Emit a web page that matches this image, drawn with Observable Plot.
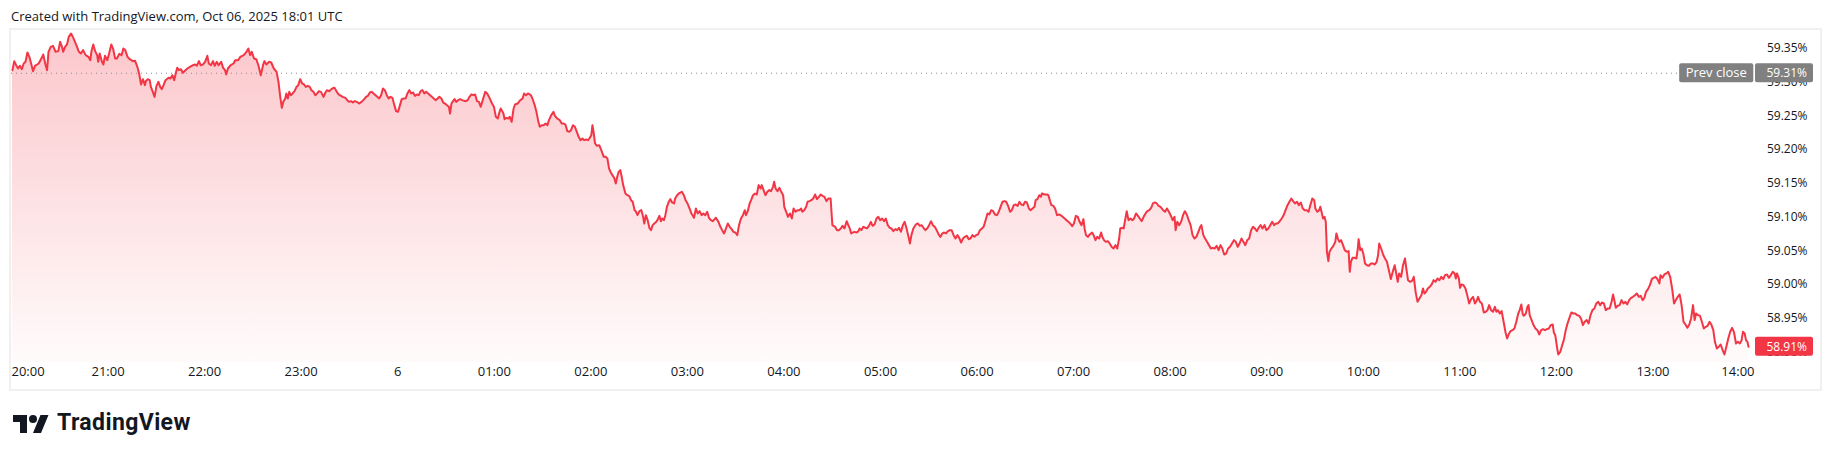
<!DOCTYPE html>
<html>
<head>
<meta charset="utf-8">
<script src="https://cdn.jsdelivr.net/npm/d3@7"></script>
<script src="https://cdn.jsdelivr.net/npm/@observablehq/plot@0.6"></script>
<style>
html,body{margin:0;padding:0;background:#fff;width:1831px;height:458px;overflow:hidden;font-family:"Open Sans",Roboto,sans-serif;color:#131722}
#hdr{position:absolute;left:11px;top:7px;font-size:13px;line-height:18px;white-space:nowrap}
#frame{position:absolute;left:9px;top:28px;width:1813px;height:363px;box-sizing:border-box;border:2px solid #f0f0f0}
#chart{position:absolute;left:11px;top:30px}
#logoIcon{position:absolute;left:13px;top:411px}
#logoText{position:absolute;left:57px;top:410px;font:700 23px/26px Roboto,"Open Sans",sans-serif;letter-spacing:0.4px;color:#131722;white-space:nowrap}
</style>
</head>
<body>
<div id="hdr"></div>
<div id="frame"></div>
<div id="chart"></div>
<svg id="logoIcon" width="36" height="28" viewBox="0 0 36 28"><path d="M14 22H7V11H0V4h14v18zM28 22h-8l7.5-18h8L28 22z" fill="#131722"/><circle cx="20" cy="8" r="4" fill="#131722"/></svg>
<div id="logoText">TradingView</div>
<script>
// ---------- data (minutes after 20:00 Oct 5, price %) ----------
const headerText = "Created with TradingView.com, Oct 06, 2025 18:01 UTC";
const prevClose = 59.313;
const lastPrice = 58.9077;
const priceTicks = [58.90, 58.95, 59.00, 59.05, 59.10, 59.15, 59.20, 59.25, 59.30, 59.35];
const timeTickMinutes = [0,60,120,180,240,300,360,420,480,540,600,660,720,780,840,900,960,1020,1080];
const timeTickLabels = ["20:00","21:00","22:00","23:00","6","01:00","02:00","03:00","04:00","05:00","06:00","07:00","08:00","09:00","10:00","11:00","12:00","13:00","14:00"];
const eveningSession = [
[0.6,59.3175],[1.7,59.3309],[2.9,59.3249],[4.1,59.3200],[5.2,59.3240],[6.4,59.3190],[7.6,59.3274],[8.7,59.3299],[9.9,59.3437],[11.1,59.3373],
[12.2,59.3274],[13.4,59.3160],[14.6,59.3240],[16.9,59.3274],[18.8,59.3358],[19.7,59.3407],[21.1,59.3259],[22.1,59.3175],[23.0,59.3447],[24.4,59.3521],
[25.8,59.3536],[27.4,59.3447],[29.1,59.3457],[30.2,59.3595],[31.4,59.3521],[32.1,59.3447],[33.3,59.3521],[34.5,59.3556],[35.6,59.3669],[37.0,59.3719],
[38.4,59.3654],[40.3,59.3546],[41.9,59.3447],[43.1,59.3422],[44.5,59.3472],[46.1,59.3398],[47.8,59.3373],[49.0,59.3323],[49.7,59.3457],[50.8,59.3556],
[52.0,59.3457],[53.2,59.3398],[53.9,59.3299],[54.8,59.3422],[56.2,59.3299],[57.1,59.3259],[58.1,59.3388],[59.5,59.3323],[60.4,59.3398],[62.0,59.3556],
[63.2,59.3486],[64.4,59.3348],[65.5,59.3348],[67.0,59.3417],[68.4,59.3398],[69.5,59.3496],[70.7,59.3472],[72.1,59.3373],[73.5,59.3338],[75.4,59.3309],
[76.8,59.3314],[78.2,59.3225],[79.3,59.3126],[80.5,59.2963],[81.7,59.3042],[82.9,59.2953],[83.5,59.3012],[84.7,59.3042],[85.9,59.3027],[86.6,59.2928],
[87.8,59.2854],[88.9,59.2780],[90.1,59.2943],[91.3,59.3002],[92.4,59.2928],[93.4,59.2894],[94.5,59.2953],[95.7,59.3027],[97.6,59.3062],[98.8,59.3052],
[99.9,59.3101],[101.1,59.3027],[102.3,59.3151],[103.0,59.3210],[104.1,59.3175],[105.3,59.3190],[106.5,59.3136],[108.1,59.3175],[109.3,59.3200],[110.9,59.3225],
[112.8,59.3249],[114.0,59.3259],[115.1,59.3240],[116.5,59.3309],[117.5,59.3249],[118.9,59.3259],[120.3,59.3299],[121.7,59.3388],[122.6,59.3274],[124.0,59.3249],
[125.2,59.3309],[126.3,59.3240],[127.5,59.3299],[128.7,59.3249],[130.3,59.3299],[131.5,59.3210],[132.7,59.3175],[133.4,59.3111],[134.5,59.3200],[136.2,59.3249],
[138.0,59.3274],[139.0,59.3323],[140.8,59.3323],[142.2,59.3373],[144.3,59.3398],[146.0,59.3447],[147.2,59.3496],[148.3,59.3398],[149.3,59.3447],[150.7,59.3348],
[152.1,59.3338],[153.5,59.3240],[154.9,59.3101],[156.3,59.3249],[157.2,59.3309],[158.4,59.3259],[160.0,59.3299],[161.4,59.3289],[163.0,59.3200],[164.7,59.3151],
[165.9,59.3002],[167.0,59.2780],[168.0,59.2617],[168.9,59.2706],[170.1,59.2756],[170.8,59.2830],[171.7,59.2756],[172.6,59.2854],[173.6,59.2805],[174.7,59.2830],
[175.9,59.2864],[177.1,59.2928],[178.2,59.2953],[179.4,59.3042],[180.6,59.2978],[181.8,59.2963],[182.9,59.2928],[184.1,59.2943],[185.3,59.2928],[186.4,59.2879],
[187.6,59.2854],[188.8,59.2805],[189.9,59.2830],[191.1,59.2864],[192.3,59.2854],[193.9,59.2780],[195.1,59.2844],[196.0,59.2879],[197.4,59.2864],[199.3,59.2904],
[200.7,59.2914],[201.6,59.2879],[202.8,59.2830],[204.0,59.2805],[205.8,59.2780],[207.5,59.2765],[208.6,59.2731],[209.8,59.2706],[211.0,59.2716],[212.1,59.2696],
[213.3,59.2716],[214.5,59.2706],[216.1,59.2681],[217.5,59.2706],[219.2,59.2746],[220.3,59.2780],[221.5,59.2795],[222.7,59.2844],[223.8,59.2854],[225.0,59.2830],
[226.2,59.2805],[227.3,59.2780],[228.5,59.2756],[229.7,59.2805],[230.8,59.2904],[232.0,59.2879],[233.2,59.2805],[234.4,59.2756],[235.5,59.2780],[236.7,59.2765],
[237.9,59.2657],[239.0,59.2568],[240.2,59.2558],[241.4,59.2657],[242.5,59.2746],[243.7,59.2756],[244.9,59.2756],[246.0,59.2830],[247.2,59.2879],[248.4,59.2830],
[249.5,59.2844],[250.7,59.2795],[251.9,59.2815],[253.1,59.2805],[254.2,59.2864],[255.4,59.2879],[256.6,59.2830],[257.7,59.2854],[258.9,59.2830],[260.1,59.2805],
[261.2,59.2780],[262.4,59.2756],[263.6,59.2731],[264.8,59.2756],[265.9,59.2780],[267.1,59.2756],[268.3,59.2696],[269.4,59.2681],[270.6,59.2657],[271.8,59.2632],
[272.5,59.2533],[273.4,59.2681],[274.1,59.2706],[275.3,59.2746],[276.4,59.2706],[277.6,59.2731],[278.8,59.2746],[280.0,59.2731],[282.3,59.2716],[283.5,59.2731],
[284.6,59.2780],[285.8,59.2815],[287.0,59.2805],[288.1,59.2815],[289.3,59.2716],[290.5,59.2706],[291.6,59.2632],[292.8,59.2731],[294.4,59.2854],[295.6,59.2830],
[297.0,59.2765],[298.6,59.2681],[299.8,59.2632],[301.0,59.2484],[302.2,59.2459],[303.3,59.2558],[304.0,59.2607],[305.7,59.2533],[306.4,59.2449],[307.5,59.2469],
[308.7,59.2459],[309.6,59.2484],[310.8,59.2410],[312.0,59.2607],[312.9,59.2667],[314.5,59.2681],[316.2,59.2731],[317.6,59.2756],[318.5,59.2830],[319.7,59.2805],
[320.9,59.2830],[322.7,59.2805],[323.7,59.2756],[325.1,59.2657],[326.2,59.2558],[327.4,59.2410],[328.3,59.2336],[329.5,59.2360],[330.7,59.2360],[331.9,59.2385],
[333.0,59.2360],[334.0,59.2435],[335.4,59.2509],[336.8,59.2558],[337.7,59.2499],[339.1,59.2459],[340.7,59.2435],[341.9,59.2385],[343.1,59.2385],[344.2,59.2370],
[345.4,59.2272],[346.6,59.2262],[347.7,59.2286],[348.9,59.2360],[350.1,59.2336],[351.3,59.2262],[352.4,59.2188],[353.6,59.2138],[354.8,59.2163],[355.9,59.2138],
[357.1,59.2148],[358.3,59.2138]
];
const nightSession = [
[359.1,59.2163],[360.3,59.2212],[361.0,59.2360],[361.7,59.2262],[362.6,59.2089],[363.8,59.2054],[365.2,59.2064],[366.1,59.2015],[367.0,59.1956],[368.0,59.1891],
[369.2,59.1891],[370.3,59.1867],[371.3,59.1719],[372.2,59.1669],[373.4,59.1620],[374.5,59.1580],[375.5,59.1496],[376.4,59.1595],[377.3,59.1669],[378.3,59.1694],
[379.2,59.1595],[380.1,59.1472],[381.5,59.1348],[382.7,59.1323],[383.9,59.1309],[385.0,59.1249],[386.0,59.1225],[387.2,59.1101],[388.1,59.1077],[389.0,59.1027],
[390.2,59.1086],[391.4,59.1101],[392.5,59.1002],[393.2,59.0904],[394.2,59.1027],[395.3,59.0953],[396.5,59.0830],[397.4,59.0805],[398.4,59.0879],[399.5,59.0904],
[400.7,59.0928],[401.9,59.0978],[402.6,59.1017],[403.5,59.0938],[404.4,59.0978],[405.4,59.0953],[406.3,59.1027],[407.3,59.1151],[408.4,59.1225],[409.4,59.1264],
[410.5,59.1215],[411.7,59.1200],[412.4,59.1274],[413.6,59.1323],[414.7,59.1348],[416.6,59.1373],[417.8,59.1323],[418.9,59.1249],[420.1,59.1200],[421.3,59.1126],
[422.5,59.1052],[423.4,59.1017],[424.1,59.0988],[425.3,59.1126],[426.4,59.1052],[427.6,59.1086],[428.8,59.1027],[429.9,59.1052],[431.1,59.1027],[432.3,59.1077],
[433.4,59.0988],[434.6,59.0953],[435.8,59.0938],[437.7,59.0988],[439.3,59.0928],[440.5,59.0854],[441.6,59.0805],[442.8,59.0756],[444.0,59.0830],[445.1,59.0904],
[446.3,59.0854],[447.5,59.0820],[448.6,59.0780],[449.8,59.0770],[451.0,59.0731],[452.1,59.0879],[453.3,59.0978],[454.5,59.1027],[455.7,59.1101],[456.4,59.1027],
[457.5,59.1086],[458.7,59.1200],[459.6,59.1249],[460.8,59.1323],[462.0,59.1348],[463.1,59.1333],[464.3,59.1472],[465.5,59.1422],[466.2,59.1472],[467.1,59.1412],
[468.5,59.1323],[469.7,59.1373],[470.9,59.1398],[472.0,59.1383],[473.2,59.1447],[473.9,59.1521],[474.8,59.1422],[476.0,59.1383],[477.2,59.1432],[478.3,59.1373],
[479.5,59.1323],[480.2,59.1151],[481.4,59.1077],[482.5,59.1002],[483.7,59.1052],[484.9,59.0978],[486.0,59.1126],[487.2,59.1077],[488.4,59.1101],[489.6,59.1101],
[490.7,59.1126],[491.4,59.1077],[492.6,59.1101],[493.8,59.1151],[494.7,59.1225],[495.9,59.1235],[497.0,59.1249],[498.2,59.1274],[499.4,59.1333],[500.5,59.1264],
[501.7,59.1299],[502.9,59.1333],[504.0,59.1314],[505.2,59.1299],[506.4,59.1235],[507.6,59.1274],[509.0,59.1274],[509.4,59.1126],[510.1,59.0879],[511.8,59.0854],
[512.9,59.0805],[514.1,59.0805],[515.3,59.0830],[516.4,59.0869],[517.6,59.0830],[519.0,59.0938],[520.0,59.0879],[520.9,59.0830],[521.8,59.0756],[522.8,59.0770],
[523.9,59.0780],[525.1,59.0770],[526.3,59.0790],[527.0,59.0830],[528.1,59.0805],[529.3,59.0854],[530.7,59.0840],[531.6,59.0830],[532.8,59.0869],[534.0,59.0928],
[535.1,59.0869],[536.3,59.0889],[537.5,59.0978],[538.6,59.1002],[539.8,59.0953],[541.0,59.0978],[542.2,59.0938],[543.3,59.0978],[544.5,59.0879],[545.7,59.0840],
[546.8,59.0830],[548.0,59.0790],[549.2,59.0820],[550.3,59.0805],[551.5,59.0840],[552.7,59.0780],[553.9,59.0879],[555.0,59.0928],[556.2,59.0830],[557.4,59.0706],
[558.3,59.0607],[559.2,59.0731],[560.4,59.0830],[562.0,59.0889],[563.2,59.0904],[564.4,59.0869],[565.5,59.0879],[566.7,59.0840],[567.9,59.0805],[569.0,59.0830],
[570.2,59.0879],[571.4,59.0938],[572.5,59.0879],[573.7,59.0854],[574.9,59.0805],[576.1,59.0741],[577.2,59.0706],[578.4,59.0756],[579.6,59.0770],[580.7,59.0756],
[581.9,59.0790],[583.1,59.0805],[584.2,59.0805],[585.4,59.0731],[586.6,59.0681],[587.8,59.0731],[588.9,59.0691],[590.1,59.0622],[591.3,59.0681],[592.4,59.0706],
[593.6,59.0721],[594.8,59.0672],[595.9,59.0681],[597.1,59.0731],[598.3,59.0706],[599.4,59.0731],[600.6,59.0741],[601.8,59.0805],[603.0,59.0830],[604.1,59.0854],
[605.3,59.0953],[606.5,59.1052],[607.6,59.1037],[608.8,59.1101],[610.0,59.1086],[611.1,59.1037],[612.3,59.1027],[613.5,59.1077],[614.6,59.1151],[615.8,59.1225],
[617.0,59.1235],[618.1,59.1225],[619.3,59.1165],[620.5,59.1077],[621.6,59.1101],[622.8,59.1175],[624.0,59.1185],[625.2,59.1165],[626.3,59.1225],[627.5,59.1185],
[628.7,59.1175],[629.8,59.1225],[631.0,59.1215],[632.2,59.1126],[633.3,59.1101],[634.5,59.1126],[635.7,59.1151],[636.4,59.1249],[637.5,59.1264],[638.7,59.1323],
[639.7,59.1299],[640.3,59.1348],[642.0,59.1333],[643.4,59.1333],[644.3,59.1323],[645.5,59.1225],[646.2,59.1175],[647.4,59.1165],[648.5,59.1126],[649.7,59.1027],
[650.9,59.1037],[652.0,59.1027],[653.2,59.1002],[654.4,59.0978],[655.6,59.0953],[656.7,59.0928],[657.9,59.0904],[659.1,59.0864],[660.2,59.0904],[661.4,59.1017],
[662.6,59.1002],[663.7,59.0928],[664.9,59.0879],[666.1,59.0968],[666.8,59.0830],[667.7,59.0731],[668.9,59.0706],[670.0,59.0741],[671.5,59.0770],[672.4,59.0731],
[673.6,59.0657],[674.7,59.0706],[675.9,59.0681],[677.1,59.0770],[677.8,59.0706],[678.9,59.0657],[680.1,59.0632],[681.3,59.0642],[682.4,59.0607],[683.6,59.0558],
[684.8,59.0533],[686.0,59.0583],[687.1,59.0533],[688.3,59.0681],[689.0,59.0830],[690.2,59.0840],[691.1,59.0830],[692.0,59.0953],[693.0,59.1086],[694.1,59.0953],
[695.3,59.0978],[696.5,59.0953],[697.6,59.0978],[698.8,59.1052],[700.0,59.1017],[701.1,59.0978],[702.3,59.0938],[703.5,59.1002],[704.7,59.1052],[705.8,59.1086],
[707.0,59.1101],[708.2,59.1136],[709.3,59.1200],[710.5,59.1215],[711.7,59.1200],[712.8,59.1165],[714.0,59.1151]
];
const daySession = [
[715.6,59.1101],[716.8,59.1077],[718.0,59.1126],[719.2,59.1077],[720.3,59.1027],[721.5,59.0953],[722.7,59.1002],[723.4,59.0805],[724.4,59.0928],[725.6,59.0879],
[726.8,59.0928],[728.0,59.1027],[729.1,59.1086],[730.3,59.1037],[731.5,59.0953],[732.7,59.0879],[733.9,59.0731],[735.1,59.0681],[736.3,59.0706],[737.5,59.0780],
[738.7,59.0854],[739.4,59.0879],[740.6,59.0731],[741.7,59.0681],[742.9,59.0632],[744.1,59.0583],[745.3,59.0533],[746.5,59.0543],[747.7,59.0533],[748.9,59.0573],
[750.1,59.0509],[751.3,59.0583],[752.4,59.0533],[753.6,59.0444],[754.8,59.0459],[756.0,59.0533],[757.2,59.0558],[758.4,59.0607],[759.6,59.0657],[760.8,59.0632],
[762.0,59.0558],[763.1,59.0607],[764.3,59.0681],[765.5,59.0632],[766.7,59.0583],[767.9,59.0657],[769.1,59.0681],[770.3,59.0805],[771.5,59.0854],[772.7,59.0830],
[773.9,59.0790],[775.0,59.0840],[776.2,59.0879],[777.4,59.0830],[778.6,59.0879],[779.8,59.0805],[781.0,59.0830],[782.2,59.0879],[783.4,59.0928],[784.6,59.0879],
[785.7,59.0904],[786.9,59.0904],[788.1,59.0938],[789.3,59.0978],[790.5,59.1027],[791.7,59.1101],[792.9,59.1175],[794.1,59.1225],[795.3,59.1274],[796.4,59.1235],
[797.6,59.1200],[798.8,59.1225],[800.0,59.1175],[801.2,59.1215],[802.4,59.1126],[803.6,59.1101],[804.8,59.1101],[806.0,59.1077],[807.1,59.1175],[808.3,59.1274],
[809.5,59.1249],[810.2,59.1126],[811.4,59.1077],[812.6,59.1101],[813.3,59.1151],[814.3,59.1052],[815.0,59.0978],[815.9,59.1002],[816.7,59.0928],[817.4,59.0484],
[818.3,59.0346],[819.0,59.0484],[820.2,59.0533],[821.4,59.0573],[822.6,59.0632],[823.3,59.0756],[824.3,59.0672],[825.2,59.0632],[826.2,59.0657],[827.4,59.0583],
[828.5,59.0509],[829.7,59.0484],[830.9,59.0494],[831.6,59.0188],[832.3,59.0336],[833.3,59.0395],[834.5,59.0395],[835.7,59.0385],[836.6,59.0533],[837.1,59.0672],
[838.1,59.0509],[839.0,59.0533],[840.0,59.0459],[841.1,59.0311],[842.3,59.0286],[843.5,59.0277],[844.7,59.0311],[845.9,59.0311],[847.1,59.0296],[848.3,59.0336],
[849.2,59.0435],[849.9,59.0607],[851.1,59.0533],[852.3,59.0444],[853.5,59.0385],[854.7,59.0336],[855.9,59.0212],[857.1,59.0079],[858.3,59.0188],[859.5,59.0286],
[860.6,59.0148],[861.4,59.0040],[862.3,59.0163],[863.5,59.0114],[864.7,59.0286],[865.9,59.0385],[866.6,59.0262],[867.8,59.0064],[869.0,59.0040],[870.2,59.0049],
[871.4,59.0114],[872.5,58.9891],[873.7,58.9743],[874.9,58.9793],[876.1,58.9842],[877.1,58.9941],[878.0,58.9867],[879.0,58.9891],[880.1,58.9941],[881.3,58.9965],
[882.5,59.0000],[883.7,59.0064],[884.9,59.0040],[886.1,59.0089],[887.3,59.0064],[888.5,59.0114],[889.7,59.0079],[890.8,59.0138],[892.0,59.0148],[893.2,59.0099],
[894.4,59.0138],[895.6,59.0188],[896.8,59.0163],[897.5,59.0089],[898.2,59.0163],[899.4,59.0089],[900.1,58.9951],[901.1,59.0000],[902.3,58.9990],[903.5,58.9941],
[904.6,58.9842],[905.8,58.9719],[907.0,58.9783],[908.2,58.9817],[909.4,58.9719],[910.6,58.9768],[911.3,58.9817],[912.5,58.9743],[913.7,58.9719],[914.9,58.9585],
[916.1,58.9595],[917.2,58.9620],[918.2,58.9694],[919.4,58.9620],[920.6,58.9595],[921.8,58.9669],[922.7,58.9595],[923.7,58.9620],[924.8,58.9570],[926.0,58.9605],
[927.2,58.9447],[928.4,58.9289],[929.4,58.9200],[930.3,58.9259],[931.5,58.9309],[932.7,58.9323],[933.9,58.9348],[935.1,58.9447],[936.3,58.9570],[937.2,58.9620],
[938.2,58.9704],[939.1,58.9556],[939.8,58.9536],[941.0,58.9570],[942.0,58.9669],[942.7,58.9694],[943.4,58.9546],[944.6,58.9472],[945.8,58.9398],[947.0,58.9348],
[948.2,58.9323],[949.3,58.9259],[950.5,58.9323],[951.7,58.9338],[952.9,58.9323],[954.1,58.9338],[955.3,58.9348],[956.5,58.9398],[957.7,58.9407],[958.4,58.9289],
[959.3,58.9249],[960.5,58.9052],[961.2,58.8963],[962.4,58.9002],[963.6,58.9101],[964.6,58.9175],[965.8,58.9323],[966.9,58.9422],[968.1,58.9506],[969.3,58.9585],
[970.5,58.9570],[971.7,58.9570],[972.9,58.9546],[974.1,58.9536],[975.3,58.9496],[976.5,58.9398],[977.6,58.9447],[978.8,58.9472],[980.0,58.9422],[981.2,58.9546],
[982.4,58.9620],[983.6,58.9644],[984.8,58.9719],[986.0,58.9743],[987.2,58.9694],[988.3,58.9733],[989.5,58.9719],[990.7,58.9620],[991.9,58.9644],[993.1,58.9644],
[994.3,58.9743],[995.2,58.9852],[996.2,58.9743],[996.9,58.9654],[998.1,58.9684],[999.3,58.9694],[1000.5,58.9768],[1001.7,58.9719],[1002.9,58.9743],[1004.0,58.9704],
[1005.2,58.9768],[1006.4,58.9802],[1007.6,58.9817],[1008.8,58.9842],[1010.0,58.9867],[1011.2,58.9817],[1012.4,58.9832],[1013.6,58.9768],[1014.7,58.9802],[1015.7,58.9891],
[1016.9,58.9931],[1018.1,58.9990],[1019.3,59.0079],[1020.4,59.0099],[1021.6,59.0114],[1022.8,59.0079],[1024.0,59.0015],[1024.7,59.0138],[1025.9,59.0099],[1027.1,59.0148],
[1028.3,59.0163],[1029.5,59.0188],[1030.7,59.0114],[1031.9,58.9941],[1033.1,58.9719],[1034.2,58.9768],[1035.4,58.9817],[1036.6,58.9852],[1037.8,58.9694],[1039.0,58.9447],
[1040.2,58.9407],[1041.4,58.9358],[1042.6,58.9407],[1043.7,58.9496],[1044.9,58.9694],[1045.9,58.9472],[1046.8,58.9570],[1048.0,58.9546],[1049.2,58.9536],[1050.4,58.9447],
[1051.6,58.9348],[1052.8,58.9373],[1054.0,58.9388],[1055.2,58.9447],[1056.4,58.9398],[1057.5,58.9323],[1058.5,58.9151],[1059.7,58.9052],[1060.9,58.9077],[1062.1,58.9111],
[1063.3,58.9027],[1064.4,58.8963],[1065.6,58.9077],[1066.8,58.9200],[1068.0,58.9299],[1069.2,58.9358],[1070.4,58.9289],[1071.6,58.9126],[1072.8,58.9151],[1074.0,58.9126],
[1075.1,58.9175],[1075.9,58.9299],[1077.0,58.9274],[1077.8,58.9175],[1078.7,58.9151],[1079.4,58.9077]
];

// ---------- build ----------
document.getElementById("hdr").textContent = headerText;
const start = Date.UTC(2025, 9, 5, 20, 0);
const toDate = m => new Date(start + m * 60000);
const data = [...eveningSession, ...nightSession, ...daySession].map(([m, v]) => ({t: toDate(m), v}));
const W = 1809, H = 359, MR = 66, MB = 27;
const yDomain = [58.8844, 59.3763];
const xDomain = [toDate(0), toDate(1083.1)];
const red = "#F23645";
const font = "'Open Sans', Roboto, sans-serif";
const ctx = document.createElement("canvas").getContext("2d");
const NS = "http://www.w3.org/2000/svg";

const ticks = timeTickMinutes.map((m, i) => ({t: toDate(m), label: timeTickLabels[i]}));

function gradientDefs() {
  const d = document.createElementNS(NS, "defs");
  d.innerHTML = `<linearGradient id="tvFill" x1="0" y1="0" x2="0" y2="1">
    <stop offset="0" stop-color="${red}" stop-opacity="0.28"/>
    <stop offset="1" stop-color="${red}" stop-opacity="0.02"/></linearGradient>`;
  return d;
}

function tag(value, text, fill, where) {
  return (index, scales, values, dims) => {
    const paneRight = dims.width - dims.marginRight;
    const yc = scales.y(value);
    const g = document.createElementNS(NS, "g");
    const r = document.createElementNS(NS, "rect");
    const t = document.createElementNS(NS, "text");
    const fs = where === "pane" ? 13 : 12;
    ctx.font = `${fs}px ${font}`;
    const tw = ctx.measureText(text).width;
    let x0, w, tx, anchor;
    if (where === "pane") { w = tw + 13; x0 = paneRight - 0.7 - w; tx = x0 + w / 2; anchor = "middle"; }
    else { x0 = paneRight + 1; w = 58; tx = paneRight + 53; anchor = "end"; }
    r.setAttribute("x", x0); r.setAttribute("y", yc - 9.5);
    r.setAttribute("width", w); r.setAttribute("height", 19);
    r.setAttribute("rx", 2); r.setAttribute("fill", fill);
    t.setAttribute("x", tx); t.setAttribute("y", yc); t.setAttribute("dy", "0.36em");
    t.setAttribute("text-anchor", anchor); t.setAttribute("fill", "#fff");
    t.setAttribute("font-size", fs); t.setAttribute("font-family", font);
    t.textContent = text;
    g.append(r, t);
    return g;
  };
}

const timeText = {x: "t", text: "label", frameAnchor: "bottom", dy: 13.4, fontSize: 13, fill: "#131722"};

const chart = Plot.plot({
  width: W, height: H,
  marginLeft: 0, marginRight: MR, marginTop: 0, marginBottom: MB,
  x: {type: "utc", domain: xDomain, axis: null},
  y: {domain: yDomain, axis: null},
  style: {fontFamily: font, fontSize: "12px", color: "#131722", background: "transparent", overflow: "visible"},
  marks: [
    gradientDefs,
    Plot.area(data, {x1: "t", y1: yDomain[0], y2: "v", fill: "url(#tvFill)"}),
    Plot.ruleY([prevClose], {stroke: "#8a8d96", strokeWidth: 1, strokeDasharray: "1 4"}),
    Plot.line(data, {x: "t", y: "v", stroke: red, strokeWidth: 2, strokeLinejoin: "round"}),
    Plot.text(priceTicks, {y: d => d, text: d => d.toFixed(2) + "%", frameAnchor: "right", dx: 53, textAnchor: "end", fill: "#131722", fontSize: 12}),
    Plot.text(ticks.slice(1, -1), timeText),
    Plot.text(ticks.slice(0, 1), {...timeText, textAnchor: "start"}),
    Plot.text(ticks.slice(-1), {...timeText, textAnchor: "end", dx: 5}),
    tag(prevClose, "Prev close", "#808080", "pane"),
    tag(prevClose, prevClose.toFixed(2) + "%", "#808080", "axis"),
    tag(lastPrice, lastPrice.toFixed(2) + "%", red, "axis")
  ]
});
document.getElementById("chart").append(chart);
</script>
</body>
</html>
